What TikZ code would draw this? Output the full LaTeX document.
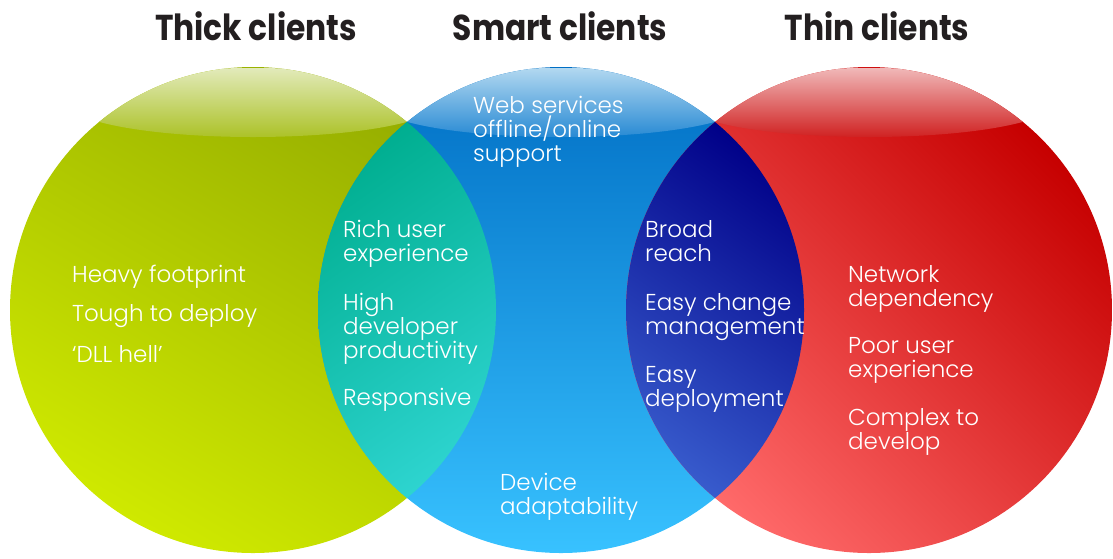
\documentclass[tikz,border=0pt]{standalone}
\usepackage{fontspec}
\usepackage{graphicx}
\newfontfamily\bodyfont{Poppins Light}
\newfontfamily\titlefont{Poppins}
\definecolor{gTop}{HTML}{96AE00}
\definecolor{gBot}{HTML}{CFE900}
\definecolor{bTop}{HTML}{006EC4}
\definecolor{bBot}{HTML}{38C2FF}
\definecolor{rTop}{HTML}{C60000}
\definecolor{rBot}{HTML}{FF6A6A}
\definecolor{tTop}{HTML}{00AE90}
\definecolor{tMid}{HTML}{14D2B6}
\definecolor{tBot}{HTML}{48EAF4}
\definecolor{dTop}{HTML}{000088}
\definecolor{dBot}{HTML}{5890F4}
\definecolor{titlecol}{HTML}{231F20}
\tikzset{
  titlenode/.style={anchor=base, inner sep=0pt, text=titlecol, font=\titlefont\bfseries\fontsize{36}{40}\selectfont},
  body/.style={anchor=base west, align=left, inner sep=0pt, text=white, font=\bodyfont\fontsize{23}{24}\selectfont}
}
\begin{document}
\begin{tikzpicture}[x=1pt,y=-1pt]
\useasboundingbox (0,0) rectangle (1113,558);
\coordinate (L) at (253,310);
\coordinate (M) at (561,310);
\coordinate (R) at (869,310);
% circles
\shade[top color=gTop, bottom color=gBot, shading angle=-30] (L) circle[radius=243pt];
\shade[top color=bTop, bottom color=bBot] (M) circle[radius=243pt];
\shade[top color=rTop, bottom color=rBot, shading angle=-45] (R) circle[radius=243pt];
% glossy caps
\begin{scope}
  \clip (L) circle[radius=243pt];
  \shade[top color={rgb,255:red,226;green,234;blue,186}, bottom color={rgb,255:red,172;green,194;blue,40}] (253,102.5) ellipse[x radius=186pt, y radius=34.5pt];
\end{scope}
\begin{scope}
  \clip (M) circle[radius=243pt];
  \shade[top color={rgb,255:red,178;green,216;blue,240}, bottom color={rgb,255:red,40;green,138;blue,212}] (561,102.5) ellipse[x radius=186pt, y radius=34.5pt];
\end{scope}
\begin{scope}
  \clip (R) circle[radius=243pt];
  \shade[top color={rgb,255:red,240;green,184;blue,184}, bottom color={rgb,255:red,208;green,34;blue,34}] (869,102.5) ellipse[x radius=186pt, y radius=34.5pt];
\end{scope}
% lenses
\begin{scope}
  \clip (L) circle[radius=243pt];
  \shade[top color=tTop, middle color=tMid, bottom color=tBot, shading angle=35] (M) circle[radius=243pt];
\end{scope}
\begin{scope}
  \clip (R) circle[radius=243pt];
  \shade[top color=dTop, bottom color=dBot, shading angle=-35] (M) circle[radius=243pt];
\end{scope}
% titles
\node[titlenode] (t1) at (256,40) {\scalebox{0.87}[1]{Thick clients}};
\node[titlenode] (t2) at (560,40) {\scalebox{0.87}[1]{Smart clients}};
\node[titlenode] (t3) at (877,40) {\scalebox{0.87}[1]{Thin clients}};
% texts (anchored at baseline of last line)
\node[body] (web) at (473,161) {Web services\\offline/online\\support};
\node[body] (rich) at (343,261) {Rich user\\experience};
\node[body] (high) at (343,358) {High\\developer\\productivity};
\node[body] (resp) at (343,405) {Responsive};
\node[body] (dev) at (500,514) {Device\\adaptability};
\node[body] (broad) at (645,261) {Broad\\reach};
\node[body] (easyc) at (645,334) {Easy change\\management};
\node[body] (easyd) at (645,406) {Easy\\deployment};
\node[body] (heavy) at (72,282) {Heavy footprint};
\node[body] (tough) at (72,321) {Tough to deploy};
\node[body] (dll) at (72,362) {‘DLL hell’};
\node[body] (net) at (848,306) {Network\\dependency};
\node[body] (poor) at (848,377) {Poor user\\experience};
\node[body] (cplx) at (848,449) {Complex to\\develop};
\end{tikzpicture}
\end{document}
